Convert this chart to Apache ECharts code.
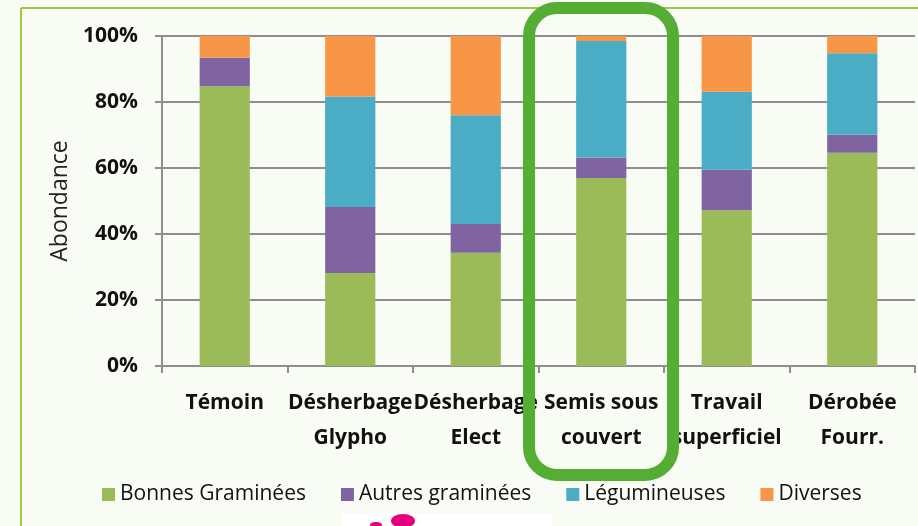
<!DOCTYPE html>
<html>
<head>
<meta charset="utf-8">
<script src="https://cdn.jsdelivr.net/npm/echarts@6/dist/echarts.min.js"></script>
<style>
  html, body { margin: 0; padding: 0; background: #f8fcf5; }
  #main { width: 918px; height: 526px; }
</style>
</head>
<body>
<div id="main"></div>
<script>
// categories (x axis)
var categories = ['Témoin', 'Désherbage\nGlypho', 'Désherbage\nElect', 'Semis sous\ncouvert', 'Travail\nsuperficiel', 'Dérobée\nFourr.'];

// values in %
var bonnesGraminees = [84.8, 28.2, 34.3, 57.0, 47.2, 64.6];
var autresGraminees = [8.6, 20.0, 8.7, 6.2, 12.3, 5.5];
var legumineuses = [0, 33.5, 33.0, 35.3, 23.6, 24.7];
var diverses = [6.6, 18.3, 24.0, 1.5, 16.9, 5.2];

var yTicks = [0, 20, 40, 60, 80, 100];

var myChart = echarts.init(document.getElementById('main'));

function makeSeries(name, data, color) {
    return {
        name: name,
        type: 'bar',
        stack: 'total',
        barWidth: '40%',
        data: data,
        itemStyle: { color: color },
        emphasis: { disabled: true }
    };
}

var option = {
    backgroundColor: '#f8fcf5',
    animation: false,
    textStyle: { fontFamily: 'Open Sans' },
    grid: { left: 162, right: 3, top: 36, bottom: 160 },
    legend: {
        left: 97,
        top: 479,
        icon: 'rect',
        itemWidth: 13,
        itemHeight: 13,
        itemGap: 35,
        textStyle: { fontSize: 21, color: '#111', fontFamily: 'Open Sans' },
        data: ['Bonnes Graminées', 'Autres graminées', 'Légumineuses', 'Diverses']
    },
    xAxis: {
        type: 'category',
        data: categories,
        axisLine: { lineStyle: { color: '#8e8e8e', width: 2 } },
        axisTick: { show: true, length: 7, lineStyle: { color: '#8e8e8e', width: 2 } },
        axisLabel: {
            interval: 0,
            margin: 20,
            fontSize: 21,
            fontWeight: 'bold',
            lineHeight: 35,
            color: '#111',
            fontFamily: 'Open Sans'
        }
    },
    yAxis: {
        type: 'value',
        min: yTicks[0],
        max: yTicks[yTicks.length - 1],
        interval: 20,
        name: 'Abondance',
        nameLocation: 'middle',
        nameGap: 88,
        nameTextStyle: { fontSize: 23, color: '#222', fontFamily: 'Open Sans' },
        axisLine: { show: true, lineStyle: { color: '#8e8e8e', width: 2 } },
        axisTick: { show: true, length: 7, lineStyle: { color: '#8e8e8e', width: 2 } },
        splitLine: { lineStyle: { color: '#8e8e8e', width: 2 } },
        axisLabel: {
            margin: 24,
            fontSize: 21,
            fontWeight: 'bold',
            color: '#111',
            fontFamily: 'Open Sans',
            formatter: '{value}%'
        }
    },
    graphic: [
        // green frame of the slide
        { type: 'line', z: 50, shape: { x1: 21, y1: 8, x2: 918, y2: 8 }, style: { stroke: '#9ccc3c', lineWidth: 2 } },
        { type: 'line', z: 50, shape: { x1: 21, y1: 8, x2: 21, y2: 526 }, style: { stroke: '#9ccc3c', lineWidth: 2 } },
        // highlight around "Semis sous couvert"
        {
            type: 'rect', z: 100,
            shape: { x: 529, y: 8, width: 144, height: 467, r: 28 },
            style: { fill: null, stroke: '#55ae33', lineWidth: 12 }
        },
        // logo fragment at the bottom
        { type: 'rect', z: 40, shape: { x: 342, y: 513, width: 210, height: 13 }, style: { fill: '#ffffff' } },
        { type: 'ellipse', z: 60, shape: { cx: 403, cy: 521, rx: 12, ry: 7 }, style: { fill: '#e5007e' } },
        { type: 'ellipse', z: 60, shape: { cx: 376, cy: 525, rx: 6, ry: 3 }, style: { fill: '#e5007e' } }
    ],
    series: [
        makeSeries('Bonnes Graminées', bonnesGraminees, '#9bbb59'),
        makeSeries('Autres graminées', autresGraminees, '#8064a2'),
        makeSeries('Légumineuses', legumineuses, '#4bacc6'),
        makeSeries('Diverses', diverses, '#f79646')
    ]
};

myChart.setOption(option);
</script>
</body>
</html>
